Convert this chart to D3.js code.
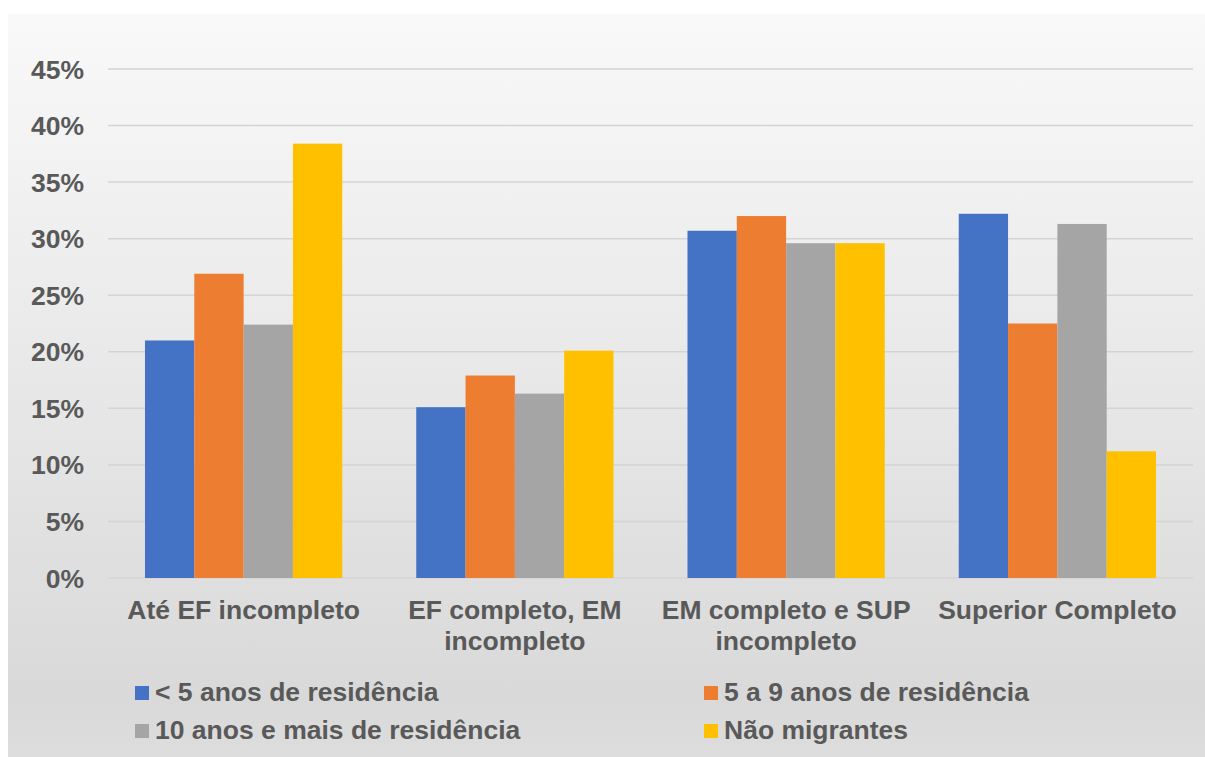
<!DOCTYPE html>
<html>
<head>
<meta charset="utf-8">
<script src="https://cdn.jsdelivr.net/npm/d3@7"></script>
<style>
  body { margin: 0; background: #fff; }
  text { font-family: "Liberation Sans", Arial, sans-serif; font-weight: bold; fill: #595959; }
</style>
</head>
<body>
<script>
// categories (label lines) and series
var categories = ['Até EF incompleto', 'EF completo, EM incompleto', 'EM completo e SUP incompleto', 'Superior Completo'];
var categoryLines = [
  ['Até EF incompleto'],
  ['EF completo, EM', 'incompleto'],
  ['EM completo e SUP', 'incompleto'],
  ['Superior Completo']
];
var seriesNames = ['< 5 anos de residência', '5 a 9 anos de residência', '10 anos e mais de residência', 'Não migrantes'];
var seriesColors = ['#4472C4', '#ED7D31', '#A5A5A5', '#FFC000'];

var menos5 = [21.0, 15.1, 30.7, 32.2];
var de5a9 = [26.9, 17.9, 32.0, 22.5];
var mais10 = [22.4, 16.3, 29.6, 31.3];
var naoMigr = [38.4, 20.1, 29.6, 11.2];
var seriesValues = [menos5, de5a9, mais10, naoMigr];

var yTicks = [0, 5, 10, 15, 20, 25, 30, 35, 40, 45];

var W = 1205, H = 757;
var fontSize = '26.5px';

var svg = d3.select('body').append('svg')
  .attr('width', W)
  .attr('height', H);

// background gradient like the excel chart area
var grad = svg.append('defs').append('linearGradient')
  .attr('id', 'bg')
  .attr('x1', 0).attr('y1', 0).attr('x2', 0).attr('y2', 1);
grad.append('stop').attr('offset', '0%').attr('stop-color', '#f9f9f9');
grad.append('stop').attr('offset', '92%').attr('stop-color', '#d9d9d9');
grad.append('stop').attr('offset', '100%').attr('stop-color', '#dddddd');

svg.append('rect')
  .attr('x', 8).attr('y', 14)
  .attr('width', W - 8).attr('height', H - 14)
  .attr('fill', 'url(#bg)');

var x0 = d3.scaleBand()
  .domain(categories)
  .range([108, 1193]);

var x1 = d3.scaleBand()
  .domain(d3.range(seriesNames.length))
  .range([0, x0.bandwidth()])
  .paddingInner(0)
  .paddingOuter(0.75);

var y = d3.scaleLinear()
  .domain([0, 45])
  .range([578, 69]);

// gridlines
svg.append('g')
  .selectAll('line')
  .data(yTicks)
  .enter().append('line')
    .attr('x1', 108)
    .attr('x2', 1193)
    .attr('y1', d => y(d))
    .attr('y2', d => y(d))
    .style('stroke', '#d4d4d4')
    .style('stroke-width', 1.5);

// y axis labels
var yAxis = d3.axisLeft(y)
  .tickValues(yTicks)
  .tickFormat(d => d + '%')
  .tickSize(0)
  .tickPadding(24);

var yg = svg.append('g')
  .attr('transform', 'translate(108,0)')
  .call(yAxis);
yg.select('.domain').remove();
yg.selectAll('text')
  .style('font-size', fontSize)
  .style('font-family', '"Liberation Sans", Arial, sans-serif')
  .attr('fill', '#595959')
  .attr('dy', '0.34em');

// bars
seriesValues.forEach((vals, si) => {
  svg.append('g')
    .selectAll('rect')
    .data(vals)
    .enter().append('rect')
      .attr('x', (d, i) => x0(categories[i]) + x1(si))
      .attr('y', d => y(d))
      .attr('width', x1.bandwidth())
      .attr('height', d => y(0) - y(d))
      .style('fill', seriesColors[si]);
});

// category labels
var cat = svg.append('g')
  .selectAll('text')
  .data(categoryLines)
  .enter().append('text')
    .attr('text-anchor', 'middle')
    .style('font-size', fontSize)
    .attr('transform', (d, i) => 'translate(' + (x0(categories[i]) + x0.bandwidth() / 2) + ',619)');
cat.selectAll('tspan')
  .data(d => d)
  .enter().append('tspan')
    .attr('x', 0)
    .attr('y', (d, j) => j * 31)
    .text(d => d);

// legend, 2 columns x 2 rows
var legX = [135, 704];
var legY = [701, 739];
var leg = svg.append('g')
  .selectAll('g')
  .data(seriesNames)
  .enter().append('g')
    .attr('transform', (d, i) => 'translate(' + legX[i % 2] + ',' + legY[Math.floor(i / 2)] + ')');
leg.append('rect')
  .attr('x', 0).attr('y', -15)
  .attr('width', 14).attr('height', 14)
  .style('fill', (d, i) => seriesColors[i]);
leg.append('text')
  .attr('x', 20)
  .attr('y', 0)
  .style('font-size', fontSize)
  .text(d => d);
</script>
</body>
</html>
